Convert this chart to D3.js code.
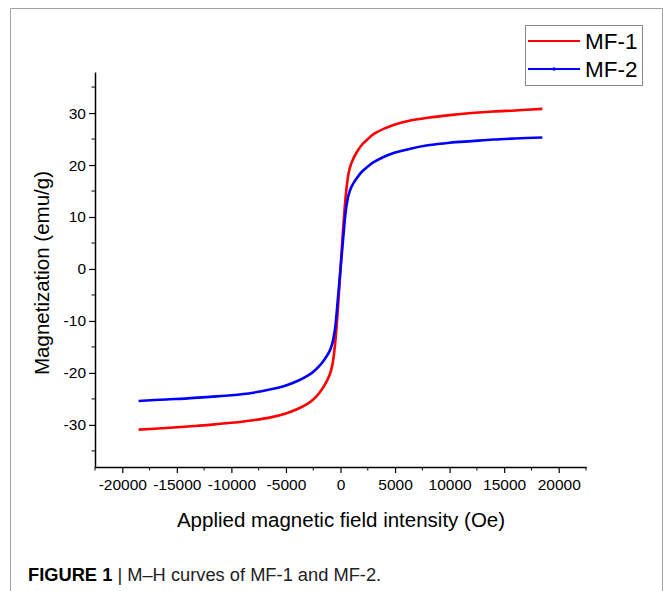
<!DOCTYPE html>
<html>
<head>
<meta charset="utf-8">
<script src="https://cdn.jsdelivr.net/npm/d3@7"></script>
<style>
  body { margin: 0; background: #fff; }
  svg { display: block; }
</style>
</head>
<body>
<svg width="663" height="591"></svg>
<script>
// applied field (Oe) and magnetization (emu/g)
var fieldOe = [-18500, -16000, -14000, -12000, -10000, -8000, -6500, -5000, -4000, -3000, -2500, -2000, -1500, -1000, -750, -500, -250,
  0, 250, 500, 750, 1000, 1500, 2000, 2500, 3000, 4000, 5000, 6500, 8000, 10000, 12000, 14000, 16000, 18500];
var mf1 = [-30.9, -30.6, -30.3, -30.0, -29.6, -29.1, -28.6, -27.8, -27.0, -25.9, -25.1, -24.0, -22.5, -20.4, -18.5, -14.5, -8,
  0, 8, 14.5, 18.5, 20.4, 22.5, 24.0, 25.0, 25.9, 27.0, 27.8, 28.6, 29.1, 29.6, 30.0, 30.3, 30.5, 30.8];
var mf2 = [-25.4, -25.1, -24.9, -24.6, -24.3, -23.8, -23.2, -22.4, -21.6, -20.5, -19.8, -18.8, -17.5, -15.8, -14.3, -11.5, -6,
  0, 6, 11.5, 14.3, 15.8, 17.5, 18.8, 19.7, 20.5, 21.6, 22.4, 23.2, 23.8, 24.3, 24.6, 24.9, 25.1, 25.3];

var seriesNames = ["MF-1", "MF-2"];
var seriesColors = ["#ff0000", "#0000ff"];

var xMajor = [-20000, -15000, -10000, -5000, 0, 5000, 10000, 15000, 20000];
var xMinor = [-22500, -17500, -12500, -7500, -2500, 2500, 7500, 12500, 17500, 22500];
var yMajor = [-30, -20, -10, 0, 10, 20, 30];
var yMinor = [-35, -25, -15, -5, 5, 15, 25, 35];

var svg = d3.select("svg"),
  font = "Arial, 'Liberation Sans', Helvetica, sans-serif";

// outer frame of the figure panel
svg.append("path")
  .attr("d", "M10.5,600V8.5H662.5V600")
  .attr("fill", "none")
  .attr("stroke", "#a0a0a0")
  .attr("stroke-width", 1);

var x = d3.scaleLinear().domain([-22500, 22500]).range([95, 586]);
var y = d3.scaleLinear().domain([-38.1, 37.9]).range([467, 72]);

// plain hyphen for negatives, like the original
var plain = function(d) { return String(d); };

// axes
var xAxis = svg.append("g")
  .attr("transform", "translate(0,467)")
  .call(d3.axisBottom(x).tickValues(xMajor).tickSize(6).tickSizeOuter(0).tickFormat(plain));
xAxis.selectAll(".minor")
  .data(xMinor)
  .enter().append("line")
  .attr("class", "minor")
  .attr("x1", function(d) { return x(d); })
  .attr("x2", function(d) { return x(d); })
  .attr("y2", 3.5)
  .attr("stroke", "#000");

var yAxis = svg.append("g")
  .attr("transform", "translate(95,0)")
  .call(d3.axisLeft(y).tickValues(yMajor).tickSize(6).tickSizeOuter(0).tickFormat(plain));
yAxis.selectAll(".minor")
  .data(yMinor)
  .enter().append("line")
  .attr("class", "minor")
  .attr("y1", function(d) { return y(d); })
  .attr("y2", function(d) { return y(d); })
  .attr("x2", -3.5)
  .attr("stroke", "#000");

svg.selectAll(".domain").attr("stroke-width", 1.5);
svg.selectAll(".tick line").attr("stroke-width", 1.2);
xAxis.selectAll(".tick text")
  .attr("font-family", font)
  .attr("font-size", 15.5)
  .attr("fill", "#000")
  .attr("dy", "0.9em");
yAxis.selectAll(".tick text")
  .attr("font-family", font)
  .attr("font-size", 15.5)
  .attr("fill", "#000")
  .attr("x", -9);

// axis titles
svg.append("text")
  .attr("x", 341)
  .attr("y", 527)
  .attr("text-anchor", "middle")
  .attr("font-family", font)
  .attr("font-size", 20.5)
  .text("Applied magnetic field intensity (Oe)");

svg.append("text")
  .attr("transform", "translate(49,273)rotate(-90)")
  .attr("text-anchor", "middle")
  .attr("font-family", font)
  .attr("font-size", 20.5)
  .text("Magnetization (emu/g)");

// curves
var line = d3.line()
  .x(function(d) { return x(d[0]); })
  .y(function(d) { return y(d[1]); })
  .curve(d3.curveCatmullRom.alpha(0.5));

[mf1, mf2].forEach(function(vals, i) {
  svg.append("path")
    .datum(fieldOe.map(function(h, j) { return [h, vals[j]]; }))
    .attr("fill", "none")
    .attr("stroke", seriesColors[i])
    .attr("stroke-width", 2.6)
    .attr("stroke-linejoin", "round")
    .attr("d", line);
});

// legend
var legend = svg.append("g");
legend.append("rect")
  .attr("x", 525.5)
  .attr("y", 25.5)
  .attr("width", 117)
  .attr("height", 60)
  .attr("fill", "#fff")
  .attr("stroke", "#888");

var item = legend.selectAll(".item")
  .data(seriesNames)
  .enter().append("g")
  .attr("class", "item")
  .attr("transform", function(d, i) { return "translate(0," + (41 + i * 28) + ")"; });

item.append("line")
  .attr("x1", 528)
  .attr("x2", 580)
  .attr("stroke", function(d, i) { return seriesColors[i]; })
  .attr("stroke-width", 2.2);

item.filter(function(d, i) { return i === 1; })
  .append("circle")
  .attr("cx", 554)
  .attr("r", 1.8)
  .attr("fill", seriesColors[1]);

item.append("text")
  .attr("x", 585)
  .attr("dy", "0.36em")
  .attr("font-family", font)
  .attr("font-size", 22.5)
  .text(function(d) { return d; });

// caption
var caption = svg.append("text")
  .attr("x", 28)
  .attr("y", 581)
  .attr("font-family", "'Liberation Sans Narrow', 'Arial Narrow', Arial, sans-serif")
  .attr("font-size", 18.3)
  .attr("fill", "#222");
caption.append("tspan")
  .attr("font-weight", "bold")
  .attr("fill", "#000")
  .text("FIGURE 1");
caption.append("tspan")
  .text(" | M\u2013H curves of MF-1 and MF-2.");
</script>
</body>
</html>
